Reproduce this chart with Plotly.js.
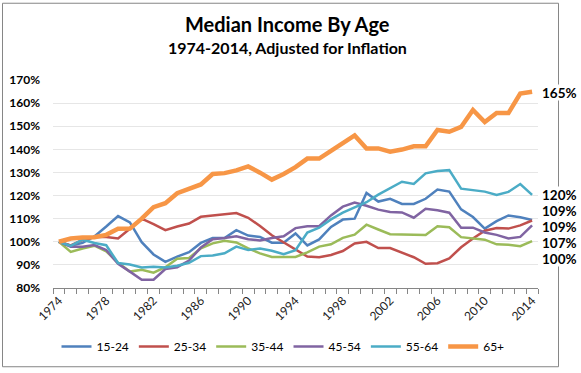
<!DOCTYPE html>
<html>
<head>
<meta charset="utf-8">
<script src="https://cdn.plot.ly/plotly-3.0.1.min.js"></script>
<style>html,body{margin:0;padding:0;background:#fff;} #chart{width:581px;height:373px;}</style>
</head>
<body>
<div id="chart"></div>
<script>
const years = [];
for (let y = 1974; y <= 2014; y++) years.push(y);

const seriesNames = ['15-24', '25-34', '35-44', '45-54', '55-64', '65+'];

const age15_24 = [100, 98.3, 99.5, 102.3, 106.6, 111.1, 108.4, 99.8, 94.5, 91.3, 93.6, 95.5, 99.5,
  101.6, 101.6, 105, 102.7, 102.1, 99.6, 99.6, 103.6, 98.4, 101, 106.4, 109.6,
  110, 121.1, 117.4, 118.6, 116.4, 116.4, 118.6, 122.6, 121.7, 114, 110.7, 105.7,
  108.9, 111.4, 110.6, 109.4];
const age25_34 = [100, 98.4, 100.8, 102.1, 102.1, 101.4, 105.6, 110, 107.6, 105, 106.6, 107.9, 110.8,
  111.3, 111.7, 112.4, 110.4, 106.8, 102.8, 99.8, 96.6, 93.6, 93.3, 94.3, 96,
  99.3, 100, 97.3, 97.3, 95.4, 93.3, 90.5, 90.7, 92.8, 97.6, 101.4, 104.8,
  106, 105.7, 107.1, 109.2];
const age35_44 = [100, 95.6, 97.1, 98.3, 95.9, 90.9, 87.1, 87.9, 86.6, 89, 92.7, 93, 97.2,
  99.3, 100.4, 99.7, 97.1, 95, 93.4, 93.4, 93.4, 95.4, 97.9, 98.9, 101.7,
  103.1, 107.4, 105.3, 103.3, 103.1, 102.9, 102.9, 106.7, 106.3, 102, 101.4, 100.9,
  98.9, 98.7, 98.1, 100.3];
const age45_54 = [100, 97.9, 97.9, 98.6, 96.4, 90.5, 87.1, 83.6, 83.6, 88.2, 89, 91.9, 97.5,
  101.1, 101.6, 102.4, 101.1, 100.6, 101.6, 102.4, 105.9, 106.7, 106.7, 111.4, 115.2,
  117, 115.6, 113.9, 112.9, 112.7, 110.4, 114.3, 113.6, 112.6, 106.1, 106.1, 104,
  103, 101.4, 102.1, 107.1];
const age55_64 = [100, 98.2, 100.9, 99.5, 98.5, 90.8, 90.2, 88.9, 89.2, 88.9, 89.6, 90.9, 93.8,
  94.1, 95, 97.9, 96.4, 97.1, 96.1, 94.6, 96.4, 104, 106.1, 109.7, 112.6,
  115, 117.1, 120.4, 123.3, 126, 125, 129.6, 130.6, 131, 123, 122.5, 121.7,
  120.3, 121.6, 125, 120.3];
const age65plus = [100, 101.4, 101.9, 102, 103, 105.6, 105.7, 110, 115, 116.7, 121, 122.9, 124.8,
  129.3, 129.7, 130.9, 132.6, 129.9, 126.9, 129.3, 132.3, 136, 136, 139.3, 142.5,
  146, 140.4, 140.4, 139, 139.9, 141.3, 141.3, 148.4, 147.6, 149.7, 157, 151.8,
  155.7, 155.7, 164.1, 164.9];

const allSeries = [age15_24, age25_34, age35_44, age45_54, age55_64, age65plus];
const colors = ['#4F81BD', '#C0504D', '#9BBB59', '#8064A2', '#4BACC6', '#F79646'];
const widths = [2.5, 2.5, 2.5, 2.5, 2.5, 4.5];

const xTickVals = [1974, 1978, 1982, 1986, 1990, 1994, 1998, 2002, 2006, 2010, 2014];
const yTickVals = [80, 90, 100, 110, 120, 130, 140, 150, 160, 170];

// end-label vertical placement (data units), spread to avoid overlap, in series order
const endLabelY = [113.4, 106.6, 92.9, 99.7, 120.4, 164.6];

const W = 581, H = 373;
const M = {l: 53, r: 43, t: 80, b: 83};
const PW = W - M.l - M.r, PH = H - M.t - M.b;
const px2x = px => (px - M.l) / PW;
const px2y = py => (H - M.b - py) / PH;

const font = 'Lato, "Open Sans", sans-serif';

const traces = allSeries.map((vals, i) => ({
  type: 'scatter', mode: 'lines', name: seriesNames[i],
  x: years, y: vals,
  line: {color: colors[i], width: widths[i]},
  hoverinfo: 'skip'
}));

const annotations = [
  {xref: 'paper', yref: 'paper', x: px2x(287), y: px2y(23), xanchor: 'center', yanchor: 'middle',
   text: '<b>Median Income By Age</b>', showarrow: false, font: {family: font, size: 20, color: '#000'}},
  {xref: 'paper', yref: 'paper', x: px2x(287), y: px2y(47), xanchor: 'center', yanchor: 'middle',
   text: '<b>1974-2014, Adjusted for Inflation</b>', showarrow: false, font: {family: font, size: 16, color: '#000'}}
];
allSeries.forEach((vals, i) => {
  annotations.push({
    xref: 'paper', yref: 'y', x: 1, y: endLabelY[i], xanchor: 'left', yanchor: 'middle', xshift: 3,
    text: '<b>' + Math.round(vals[vals.length - 1]) + '%</b>', showarrow: false,
    bgcolor: '#ffffff', borderpad: 0, height: 15, width: 38, align: 'left',
    font: {family: font, size: 13.5, color: '#000'}
  });
});

const layout = {
  width: W, height: H, autosize: false,
  margin: M,
  paper_bgcolor: '#fff', plot_bgcolor: '#fff',
  showlegend: true,
  legend: {orientation: 'h', x: px2x(283), xanchor: 'center', y: px2y(349), yanchor: 'middle',
    font: {family: font, size: 12, color: '#000'}, itemwidth: 30, traceorder: 'normal'},
  xaxis: {
    range: [1973.5, 2014.5], tickmode: 'array', tickvals: xTickVals, ticktext: xTickVals.map(String),
    tickangle: -45, ticks: '', showgrid: false, zeroline: false,
    showline: true, linecolor: '#868686', linewidth: 1,
    tickfont: {family: font, size: 12, color: '#222'},
    minor: {tick0: 1973.5, dtick: 1, ticks: 'outside', ticklen: 5, tickcolor: '#868686', showgrid: false}
  },
  yaxis: {
    range: [80, 170], tickmode: 'array', tickvals: yTickVals,
    ticktext: yTickVals.map(v => '<b>' + v + '%</b>'),
    showgrid: true, gridcolor: '#e6e6e6', gridwidth: 1, zeroline: false, showline: false,
    ticks: '', ticklabelstandoff: 12,
    tickfont: {family: font, size: 12, color: '#000'}
  },
  shapes: [
    {type: 'rect', xref: 'paper', yref: 'paper', x0: px2x(2.5), x1: px2x(558.5), y0: px2y(2.5), y1: px2y(369.5),
     line: {color: '#868686', width: 1}, fillcolor: 'rgba(0,0,0,0)', layer: 'below'}
  ],
  annotations: annotations
};

Plotly.newPlot('chart', traces, layout, {displayModeBar: false, staticPlot: true});
</script>
</body>
</html>
